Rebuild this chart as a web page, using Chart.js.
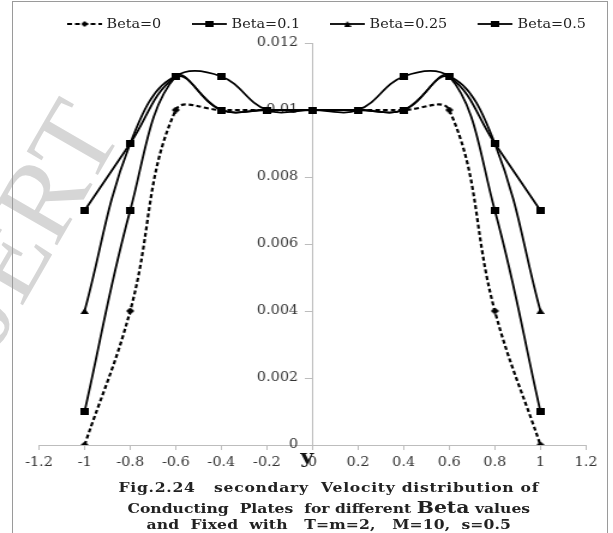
<!DOCTYPE html>
<html lang="en">
<head>
<meta charset="UTF-8">
<script src="https://cdn.jsdelivr.net/npm/chart.js"></script>
<title>Secondary velocity distribution</title>
<style>
  body { margin: 0; width: 613px; height: 533px; overflow: hidden; background: #fff; position: relative; }
  #mark { position: absolute; left: 0; top: 0; }
  #frame { position: absolute; left: 12px; top: 1px; width: 594px; height: 540px; border: 1px solid #9a9a9a; }
  /* the whole figure is laid out 511px wide and stretched to the page width */
  #stage { position: absolute; left: 0; top: 0; width: 511px; height: 533px; transform: scaleX(1.2); transform-origin: 0 0; }
  #box { position: absolute; left: 0; top: 0; width: 511px; height: 480px; }
  #legend { position: absolute; left: 0; top: 17px; width: 511px; height: 14px;
            font: 12px "DejaVu Serif", serif; color: #222; white-space: nowrap; }
  #legend .item { position: absolute; top: 0; display: flex; align-items: center; gap: 3px; }
  #legend canvas { display: block; }
  .cap { position: absolute; left: 24px; width: 500px; text-align: center; white-space: pre;
         font: bold 13px "DejaVu Serif", serif; letter-spacing: 0.6px; color: #222; line-height: 14px; }
  .cap b { font-size: 17px; letter-spacing: 0; }
</style>
</head>
<body>
<svg id="mark" width="613" height="533">
  <text x="-19.3" y="378.1" transform="rotate(-60 -19.3 378.1)" font-family="Liberation Serif" font-size="112" fill="#d6d6d6">IJERT</text>
</svg>
<div id="frame"></div>
<div id="stage">
  <div id="box"><canvas id="chart"></canvas></div>
  <div id="legend"></div>
  <div class="cap" style="top:481px">Fig.2.24   secondary  Velocity distribution of</div>
  <div class="cap" style="top:500px; letter-spacing:0">Conducting  Plates  for different <b>Beta</b> values</div>
  <div class="cap" style="top:518px; letter-spacing:0.1px">and  Fixed  with   T=m=2,   M=10,  s=0.5</div>
</div>

<script>
// y positions across the channel
const yPos = [-1, -0.8, -0.6, -0.4, -0.2, 0, 0.2, 0.4, 0.6, 0.8, 1];

// secondary velocity for each Beta
const beta0   = [0, 0.004, 0.010, 0.010, 0.010, 0.010, 0.010, 0.010, 0.010, 0.004, 0];
const beta01  = [0.001, 0.007, 0.011, 0.010, 0.010, 0.010, 0.010, 0.010, 0.011, 0.007, 0.001];
const beta025 = [0.004, 0.009, 0.011, 0.010, 0.010, 0.010, 0.010, 0.010, 0.011, 0.009, 0.004];
const beta05  = [0.007, 0.009, 0.011, 0.011, 0.010, 0.010, 0.010, 0.011, 0.011, 0.009, 0.007];

const seriesNames = ['Beta=0', 'Beta=0.1', 'Beta=0.25', 'Beta=0.5'];

const xTicks = [-1.2, -1, -0.8, -0.6, -0.4, -0.2, 0, 0.2, 0.4, 0.6, 0.8, 1, 1.2];
const yTicks = [0, 0.002, 0.004, 0.006, 0.008, 0.01, 0.012];

// where each legend entry starts
const legendLeft = [55.8, 160, 275, 398.3];

// marker shapes
function marker(kind, w, h) {
    const c = document.createElement('canvas');
    c.width = w; c.height = h;
    const g = c.getContext('2d');
    g.fillStyle = '#000';
    g.beginPath();
    if (kind === 'diamond') {
        g.moveTo(w / 2, 0); g.lineTo(w, h / 2); g.lineTo(w / 2, h); g.lineTo(0, h / 2);
    } else if (kind === 'triangle') {
        g.moveTo(w / 2, 0); g.lineTo(w, h); g.lineTo(0, h);
    } else {
        g.rect(0, 0, w, h);
    }
    g.closePath();
    g.fill();
    return c;
}

// little line + marker picture for the legend
function sample(kind, dashed) {
    const c = document.createElement('canvas');
    c.width = 30; c.height = 10;
    const g = c.getContext('2d');
    g.strokeStyle = '#000';
    g.lineWidth = 1.8;
    if (dashed) g.setLineDash([4, 2.5]);
    g.beginPath(); g.moveTo(0, 5); g.lineTo(29, 5); g.stroke();
    const m = kind === 'square' ? marker(kind, 7, 6) : marker(kind, 6, 6);
    g.drawImage(m, 14.5 - m.width / 2, 5 - m.height / 2);
    return c;
}

const diamond = marker('diamond', 7, 7);
const square = marker('square', 7, 7);
const triangle = marker('triangle', 7, 6);

const legendPics = [sample('diamond', true), sample('square'), sample('triangle'), sample('square')];

function pts(vals) {
    return vals.map((v, i) => ({ x: yPos[i], y: v }));
}

function series(i, vals, style, dashed) {
    return {
        label: seriesNames[i],
        data: pts(vals),
        borderColor: '#000',
        backgroundColor: '#000',
        borderWidth: dashed ? 2.2 : 1.8,
        borderDash: dashed ? [4, 2.5] : [],
        pointStyle: style,
        tension: 0.4,
        fill: false
    };
}

// bold "y" under the vertical axis
const axisName = {
    id: 'axisName',
    afterDraw(chart) {
        const ctx = chart.ctx;
        const x = chart.scales.x.getPixelForValue(0) - 4.6;
        ctx.save();
        ctx.font = 'bold 19px "DejaVu Serif"';
        ctx.fillStyle = '#111';
        ctx.textAlign = 'center';
        ctx.textBaseline = 'alphabetic';
        ctx.fillText('y', x, 463);
        ctx.restore();
    }
};

const tickFont = { family: 'DejaVu Serif', size: 12 };

const chart = new Chart(document.getElementById('chart'), {
    type: 'line',
    data: {
        datasets: [
            series(0, beta0, diamond, true),
            series(1, beta01, square),
            series(2, beta025, triangle),
            series(3, beta05, square)
        ]
    },
    options: {
        responsive: true,
        maintainAspectRatio: false,
        animation: false,
        events: [],
        layout: { padding: { left: 32.5, right: 22.7, top: 43, bottom: 3.6 } },
        plugins: {
            legend: { display: false },
            tooltip: { enabled: false }
        },
        scales: {
            x: {
                type: 'linear',
                min: -1.2,
                max: 1.2,
                position: 'bottom',
                afterBuildTicks: s => { s.ticks = xTicks.map(v => ({ value: v })); },
                grid: { drawOnChartArea: false, drawTicks: true, tickLength: 5, color: '#bdbdbd' },
                border: { color: '#bdbdbd', width: 1 },
                ticks: {
                    font: tickFont,
                    color: '#333',
                    padding: 6,
                    maxRotation: 0,
                    autoSkip: false,
                    callback: v => String(Number(v.toFixed(1)))
                }
            },
            y: {
                type: 'linear',
                min: 0,
                max: 0.012,
                position: { x: 0 },
                afterBuildTicks: s => { s.ticks = yTicks.map(v => ({ value: v })); },
                grid: { drawOnChartArea: false, drawTicks: true, tickLength: 6, color: '#bdbdbd' },
                border: { color: '#bdbdbd', width: 1 },
                ticks: {
                    font: tickFont,
                    color: '#333',
                    autoSkip: false,
                    // an em space keeps the labels clear of the tick marks
                    callback: v => String(Number(v.toFixed(3))) + '\u2003'
                }
            }
        }
    },
    plugins: [axisName]
});

// html legend from the chart's own legend items
const legendBox = document.getElementById('legend');
chart.options.plugins.legend.labels.generateLabels(chart).forEach(item => {
    const el = document.createElement('div');
    el.className = 'item';
    el.style.left = legendLeft[item.datasetIndex] + 'px';
    el.appendChild(legendPics[item.datasetIndex]);
    const t = document.createElement('span');
    t.textContent = item.text;
    el.appendChild(t);
    legendBox.appendChild(el);
});
</script>
</body>
</html>
